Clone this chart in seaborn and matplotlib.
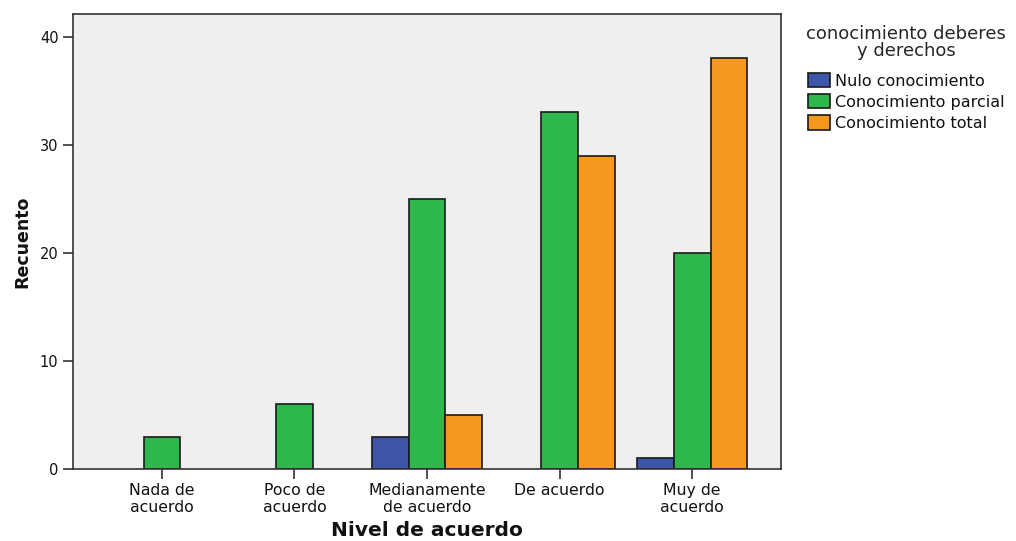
import numpy as np
import pandas as pd
import seaborn as sns
import matplotlib.pyplot as plt

# datos
categorias = ['Nada de\nacuerdo', 'Poco de\nacuerdo', 'Medianamente\nde acuerdo',
              'De acuerdo', 'Muy de\nacuerdo']
grupos = ['Nulo conocimiento', 'Conocimiento parcial', 'Conocimiento total']
nulo = [0, 0, 3, 0, 1]
parcial = [3, 6, 25, 33, 20]
total = [0, 0, 5, 29, 38]

df = pd.DataFrame({
    'nivel': categorias * 3,
    'grupo': np.repeat(grupos, len(categorias)),
    'recuento': nulo + parcial + total,
})
# los ceros no se dibujan
df = df[df['recuento'] > 0]

colores = ['#3D56AA', '#2EB74B', '#F7981E']

sns.set_style('white')
plt.rcParams['font.family'] = ['DejaVu Sans']

fig = plt.figure(figsize=(10.16, 5.41), dpi=100)
ax = fig.add_axes([0.0719, 0.1331, 0.6968, 0.841])
ax.set_facecolor('#EFEFEF')

sns.barplot(data=df, x='nivel', y='recuento', hue='grupo', order=categorias,
            hue_order=grupos, palette=colores, saturation=1, width=0.83, gap=0,
            edgecolor='#1a1a1a', linewidth=1.2, ax=ax)

ax.set_xlim(-0.67, 4.67)
ax.set_ylim(0, 42.1)
ax.set_yticks([0, 10, 20, 30, 40])
ax.tick_params(axis='both', direction='out', length=7, width=1.2, color='#333333',
               labelsize=10.5, bottom=True, left=True, labelcolor='#111111')
ax.tick_params(axis='x', labelsize=11.3, pad=3)
for s in ax.spines.values():
    s.set_color('#333333')
    s.set_linewidth(1.2)

ax.set_xlabel('Nivel de acuerdo', fontsize=14.5, fontweight='bold', labelpad=4,
              color='#111111')
ax.set_ylabel('Recuento', fontsize=12.5, fontweight='bold', labelpad=6,
              color='#111111')

leg = ax.legend(title='conocimiento deberes\ny derechos', loc='upper left',
                bbox_to_anchor=(1.02, 1.0), frameon=False, fontsize=11.5,
                title_fontsize=13, handlelength=1.4, handleheight=1.0,
                handletextpad=0.3, labelspacing=0.35, borderaxespad=0.3)
leg.get_title().set_multialignment('center')
leg.get_title().set_linespacing(0.95)
leg._legend_box.sep = 9
for t in leg.get_texts():
    t.set_color('#111111')

fig.savefig('out.png', dpi=100)
